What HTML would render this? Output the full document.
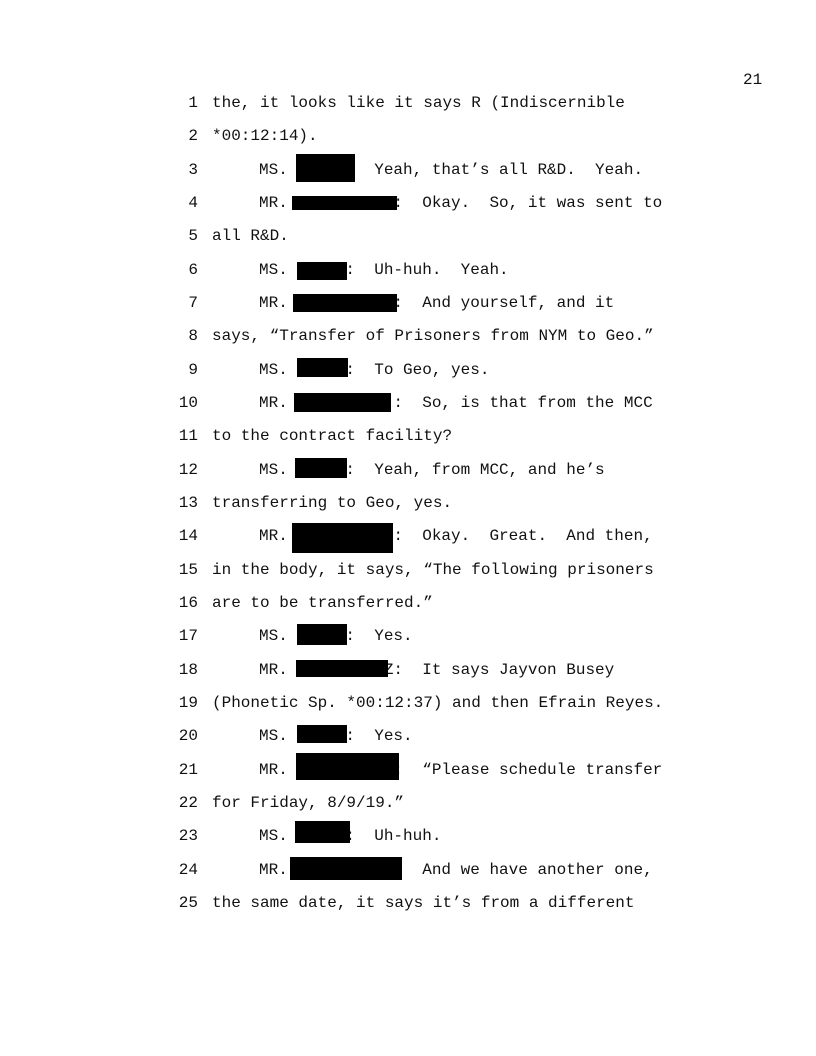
<!DOCTYPE html>
<html><head><meta charset="utf-8"><style>
html,body{margin:0;padding:0;background:#fff;}
body{width:816px;height:1056px;position:relative;overflow:hidden;font-family:"Liberation Mono",monospace;font-size:16px;color:#111;}
.l{position:absolute;white-space:pre;line-height:20px;height:20px;}
.n{position:absolute;width:40px;left:158px;text-align:right;line-height:20px;}
.b{position:absolute;background:#000;}
</style></head><body>
<div class="l" style="left:743px;top:70px;">21</div>

<div class="n" style="top:93px">1</div><div class="l" style="left:212px;top:93px">the, it looks like it says R (Indiscernible</div>
<div class="n" style="top:126px">2</div><div class="l" style="left:212px;top:126px">*00:12:14).</div>
<div class="n" style="top:160px">3</div><div class="l" style="left:259px;top:160px">MS.         Yeah, that’s all R&amp;D.  Yeah.</div>
<div class="n" style="top:193px">4</div><div class="l" style="left:259px;top:193px">MR.           :  Okay.  So, it was sent to</div>
<div class="n" style="top:226px">5</div><div class="l" style="left:212px;top:226px">all R&amp;D.</div>
<div class="n" style="top:260px">6</div><div class="l" style="left:259px;top:260px">MS.      :  Uh-huh.  Yeah.</div>
<div class="n" style="top:293px">7</div><div class="l" style="left:259px;top:293px">MR.           :  And yourself, and it</div>
<div class="n" style="top:326px">8</div><div class="l" style="left:212px;top:326px">says, “Transfer of Prisoners from NYM to Geo.”</div>
<div class="n" style="top:360px">9</div><div class="l" style="left:259px;top:360px">MS.      :  To Geo, yes.</div>
<div class="n" style="top:393px">10</div><div class="l" style="left:259px;top:393px">MR.           :  So, is that from the MCC</div>
<div class="n" style="top:426px">11</div><div class="l" style="left:212px;top:426px">to the contract facility?</div>
<div class="n" style="top:460px">12</div><div class="l" style="left:259px;top:460px">MS.      :  Yeah, from MCC, and he’s</div>
<div class="n" style="top:493px">13</div><div class="l" style="left:212px;top:493px">transferring to Geo, yes.</div>
<div class="n" style="top:526px">14</div><div class="l" style="left:259px;top:526px">MR.           :  Okay.  Great.  And then,</div>
<div class="n" style="top:560px">15</div><div class="l" style="left:212px;top:560px">in the body, it says, “The following prisoners</div>
<div class="n" style="top:593px">16</div><div class="l" style="left:212px;top:593px">are to be transferred.”</div>
<div class="n" style="top:626px">17</div><div class="l" style="left:259px;top:626px">MS.      :  Yes.</div>
<div class="n" style="top:660px">18</div><div class="l" style="left:259px;top:660px">MR.          Z:  It says Jayvon Busey</div>
<div class="n" style="top:693px">19</div><div class="l" style="left:212px;top:693px">(Phonetic Sp. *00:12:37) and then Efrain Reyes.</div>
<div class="n" style="top:726px">20</div><div class="l" style="left:259px;top:726px">MS.      :  Yes.</div>
<div class="n" style="top:760px">21</div><div class="l" style="left:259px;top:760px">MR.           :  “Please schedule transfer</div>
<div class="n" style="top:793px">22</div><div class="l" style="left:212px;top:793px">for Friday, 8/9/19.”</div>
<div class="n" style="top:826px">23</div><div class="l" style="left:259px;top:826px">MS.      :  Uh-huh.</div>
<div class="n" style="top:860px">24</div><div class="l" style="left:259px;top:860px">MR.              And we have another one,</div>
<div class="n" style="top:893px">25</div><div class="l" style="left:212px;top:893px">the same date, it says it’s from a different</div>

<div class="b" style="left:296px;top:154px;width:59px;height:28px"></div>
<div class="b" style="left:292px;top:196px;width:105px;height:14px"></div>
<div class="b" style="left:297px;top:262px;width:50px;height:18px"></div>
<div class="b" style="left:293px;top:294px;width:104px;height:18px"></div>
<div class="b" style="left:297px;top:358px;width:51px;height:19px"></div>
<div class="b" style="left:294px;top:393px;width:97px;height:19px"></div>
<div class="b" style="left:295px;top:458px;width:52px;height:20px"></div>
<div class="b" style="left:292px;top:523px;width:101px;height:30px"></div>
<div class="b" style="left:297px;top:624px;width:50px;height:21px"></div>
<div class="b" style="left:296px;top:660px;width:92px;height:17px"></div>
<div class="b" style="left:297px;top:725px;width:50px;height:18px"></div>
<div class="b" style="left:296px;top:753px;width:103px;height:27px"></div>
<div class="b" style="left:295px;top:821px;width:55px;height:22px"></div>
<div class="b" style="left:290px;top:857px;width:112px;height:23px"></div>
</body></html>
